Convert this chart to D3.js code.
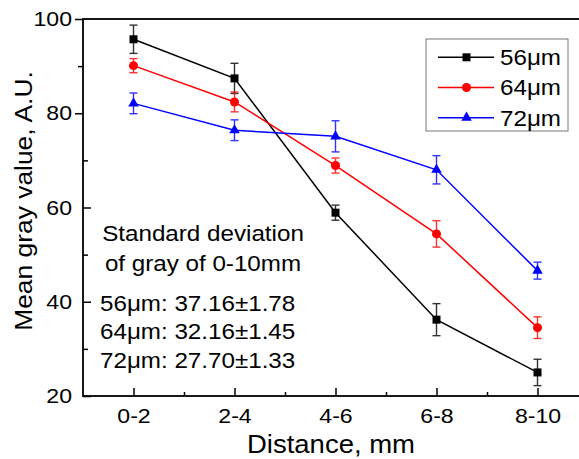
<!DOCTYPE html>
<html>
<head>
<meta charset="utf-8">
<script src="https://cdn.jsdelivr.net/npm/d3@7"></script>
<style>
  body { margin: 0; background: #fff; }
  svg { display: block; font-family: "Liberation Sans", Arial, sans-serif; }
</style>
</head>
<body>
<div id="chart"></div>
<script>
// data
const categories = ["0-2", "2-4", "4-6", "6-8", "8-10"];
const names = ["56\u03bcm", "64\u03bcm", "72\u03bcm"];
const colors = ["#000000", "#ff0000", "#0000ff"];
const shapes = [d3.symbolSquare, d3.symbolCircle, d3.symbolTriangle];
const mean56 = [95.7, 87.4, 58.9, 36.2, 25.0];
const err56 = [3.0, 3.2, 1.6, 3.4, 2.8];
const mean64 = [90.1, 82.4, 68.9, 54.4, 34.5];
const err64 = [1.5, 2.1, 1.6, 2.8, 2.3];
const mean72 = [82.1, 76.4, 75.1, 68.0, 46.6];
const err72 = [2.2, 2.2, 3.3, 3.0, 1.8];
const yMajor = [20, 40, 60, 80, 100];
const yMinor = [30, 50, 70, 90];
const noteTitle = ["Standard deviation", "of gray of 0-10mm"];
const noteStats = ["56\u03bcm: 37.16\u00b11.78", "64\u03bcm: 32.16\u00b11.45", "72\u03bcm: 27.70\u00b11.33"];

const series = [mean56, mean64, mean72].map((m, i) => ({
  name: names[i],
  color: colors[i],
  shape: shapes[i],
  pts: m.map((v, j) => ({ c: categories[j], v: v, e: [err56, err64, err72][i][j] }))
}));

const w = 579, h = 459;
const pLeft = 83, pTop = 19, pRight = 588, pBottom = 396;
const sx = 1.1; // text in the figure is a little wide

const svg = d3.select("#chart").append("svg")
  .attr("width", w)
  .attr("height", h);

const x = d3.scalePoint().domain(categories).range([pLeft, pRight]).padding(0.5);
const xi = d3.scaleLinear().domain([-0.5, categories.length - 0.5]).range([pLeft, pRight]);
const y = d3.scaleLinear().domain([20, 100]).range([pBottom, pTop]);

// stretch a text around its anchor point
const wide = (sel, tx, ty) => sel.attr("transform", `translate(${tx},${ty}) scale(${sx},1) translate(${-tx},${-ty})`);

// x axis
const gx = svg.append("g").attr("transform", `translate(0,${pBottom})`)
  .call(d3.axisBottom(x).tickSize(-8).tickPadding(12));
gx.selectAll("text").attr("font-size", 21).attr("fill", "#000").attr("transform", `scale(${sx},1)`);
svg.append("g").attr("transform", `translate(0,${pBottom})`)
  .call(d3.axisBottom(xi).tickValues([0.5, 1.5, 2.5, 3.5]).tickSize(-4).tickFormat(""));

// y axis: labels, then ticks (upper ones point out, lower ones in)
const gy = svg.append("g").attr("transform", `translate(${pLeft},0)`)
  .call(d3.axisLeft(y).tickValues(yMajor).tickSize(0).tickPadding(10));
gy.selectAll("text").attr("font-size", 21).attr("fill", "#000").attr("transform", `scale(${sx},1)`);
svg.append("g").attr("transform", `translate(${pLeft},0)`)
  .call(d3.axisLeft(y).tickValues(yMajor.filter(d => d >= 80)).tickSize(8).tickFormat(""));
svg.append("g").attr("transform", `translate(${pLeft},0)`)
  .call(d3.axisLeft(y).tickValues(yMajor.filter(d => d < 80)).tickSize(-8).tickFormat(""));
svg.append("g").attr("transform", `translate(${pLeft},0)`)
  .call(d3.axisLeft(y).tickValues(yMinor.filter(d => d >= 80)).tickSize(5).tickFormat(""));
svg.append("g").attr("transform", `translate(${pLeft},0)`)
  .call(d3.axisLeft(y).tickValues(yMinor.filter(d => d < 80)).tickSize(-5).tickFormat(""));

svg.selectAll(".domain").remove();
svg.selectAll(".tick line").attr("stroke", "#000").attr("stroke-width", 1.5);

// frame
svg.append("rect")
  .attr("x", pLeft).attr("y", pTop)
  .attr("width", pRight - pLeft).attr("height", pBottom - pTop)
  .attr("fill", "none").attr("stroke", "#000").attr("stroke-width", 1.8);

// axis titles
const titleX = (pLeft + pRight - 9) / 2;
svg.append("text")
  .attr("x", titleX).attr("y", 453)
  .attr("text-anchor", "middle").attr("font-size", 25)
  .text("Distance, mm")
  .call(wide, titleX, 453);

svg.append("text")
  .attr("transform", `translate(32,201) rotate(-90) scale(${sx},1)`)
  .attr("text-anchor", "middle").attr("font-size", 24)
  .text("Mean gray value, A.U.");

// series
const line = d3.line().x(d => x(d.c)).y(d => y(d.v));

series.forEach(s => {
  const g = svg.append("g");
  g.append("path")
    .datum(s.pts)
    .attr("d", line)
    .attr("fill", "none")
    .attr("stroke", s.color)
    .attr("stroke-width", 1.5);

  const eb = g.selectAll(".err").data(s.pts).enter().append("g")
    .attr("stroke", s.color).attr("stroke-width", 1.4).attr("opacity", 0.8);
  eb.append("line")
    .attr("x1", d => x(d.c)).attr("x2", d => x(d.c))
    .attr("y1", d => y(d.v - d.e)).attr("y2", d => y(d.v + d.e));
  eb.append("line")
    .attr("x1", d => x(d.c) - 4).attr("x2", d => x(d.c) + 4)
    .attr("y1", d => y(d.v + d.e)).attr("y2", d => y(d.v + d.e));
  eb.append("line")
    .attr("x1", d => x(d.c) - 4).attr("x2", d => x(d.c) + 4)
    .attr("y1", d => y(d.v - d.e)).attr("y2", d => y(d.v - d.e));

  g.selectAll(".mark").data(s.pts).enter().append("path")
    .attr("d", d3.symbol().type(s.shape).size(s.shape === d3.symbolTriangle ? 48 : 64))
    .attr("transform", d => `translate(${x(d.c)},${y(d.v)})`)
    .attr("fill", s.color);
});

// legend
const legend = svg.append("g");
legend.append("rect")
  .attr("x", 426).attr("y", 39).attr("width", 142).attr("height", 92)
  .attr("fill", "#fff").attr("stroke", "#777").attr("stroke-width", 1);

series.forEach((s, i) => {
  const ly = 57.3 + i * 30.2;
  legend.append("line")
    .attr("x1", 438).attr("x2", 494).attr("y1", ly).attr("y2", ly)
    .attr("stroke", s.color).attr("stroke-width", 1.5);
  legend.append("path")
    .attr("d", d3.symbol().type(s.shape).size(s.shape === d3.symbolTriangle ? 48 : 64))
    .attr("transform", `translate(466.5,${ly})`)
    .attr("fill", s.color);
  legend.append("text")
    .attr("x", 500).attr("y", ly).attr("dy", "0.36em")
    .attr("font-size", 22)
    .text(s.name)
    .call(wide, 500, ly);
});

// note in the lower left
noteTitle.forEach((t, i) => {
  const ty = 241 + i * 30.5;
  svg.append("text")
    .attr("x", 203).attr("y", ty)
    .attr("text-anchor", "middle").attr("font-size", 22)
    .text(t)
    .call(wide, 203, ty);
});
noteStats.forEach((t, i) => {
  const ty = 311 + i * 28.5;
  svg.append("text")
    .attr("x", 100).attr("y", ty)
    .attr("font-size", 22)
    .text(t)
    .call(wide, 100, ty);
});
</script>
</body>
</html>
